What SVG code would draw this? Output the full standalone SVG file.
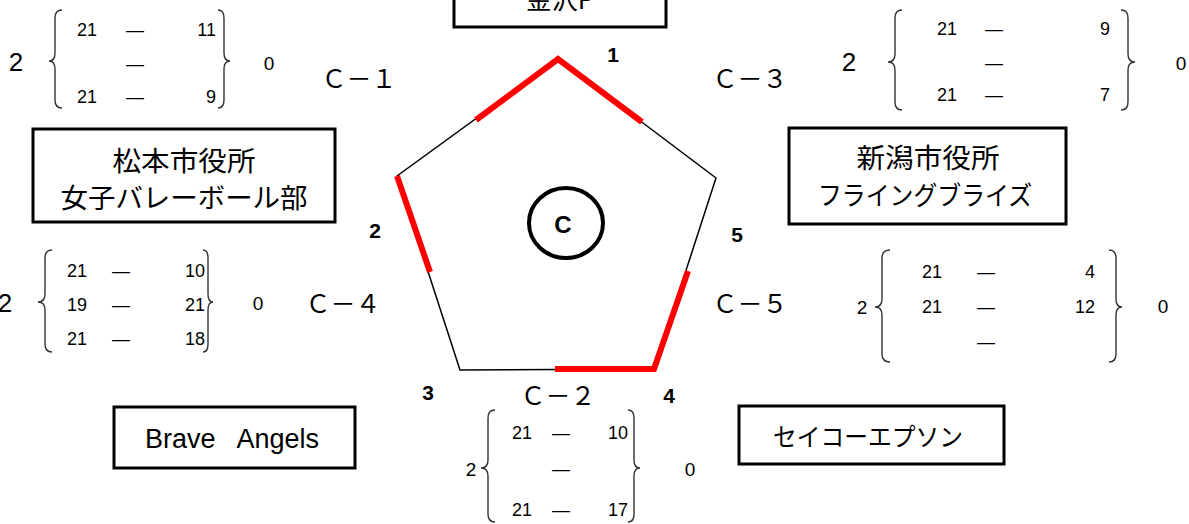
<svg xmlns="http://www.w3.org/2000/svg" width="1189" height="524" viewBox="0 0 1189 524">
<style>
.box{fill:#fff;stroke:#000;stroke-width:3}
.jp{font-family:"Noto Sans CJK JP","Liberation Sans",sans-serif;fill:#000}
.lat{font-family:"Liberation Sans","Noto Sans CJK JP",sans-serif;fill:#000}
.num{font-family:"Liberation Sans","Noto Sans CJK JP",sans-serif;font-size:18px;fill:#000}
.dash{font-family:"Liberation Sans",sans-serif;font-size:18px;fill:#000;text-anchor:middle}
.big{font-family:"Liberation Sans",sans-serif;font-size:26px;fill:#000;text-anchor:middle}
.zero{font-family:"Liberation Sans",sans-serif;font-size:19px;fill:#000;text-anchor:middle}
.lab{font-family:"Noto Sans CJK JP",sans-serif;font-size:25px;fill:#000;text-anchor:middle}
.vn{font-family:"Liberation Sans",sans-serif;font-size:21px;font-weight:bold;fill:#000;text-anchor:middle}
.brace{fill:none;stroke:#333;stroke-width:1.4}
.red{fill:none;stroke:#f00;stroke-width:6;stroke-linejoin:miter}
.end{text-anchor:end}
</style>

<g id="pentagon">
<polygon points="558,59 716,178 654,369 460,370 397,176" fill="none" stroke="#000" stroke-width="1.5"/>
<polyline class="red" points="476,120 558,59 642,122"/>
<line class="red" x1="397" y1="176" x2="430" y2="272"/>
<polyline class="red" points="688,271 654,369 555,369"/>
</g>

<g id="center-C">
<ellipse cx="566" cy="223" rx="37" ry="35" fill="none" stroke="#000" stroke-width="4"/>
<text x="563" y="233" font-family="Liberation Sans, sans-serif" font-size="24" font-weight="bold" text-anchor="middle">C</text>
</g>

<g id="vertex-labels">
<text class="vn" x="613" y="62">1</text>
<text class="vn" x="375" y="238">2</text>
<text class="vn" x="428" y="400">3</text>
<text class="vn" x="669" y="403">4</text>
<text class="vn" x="737" y="242">5</text>
</g>

<g id="connectors">
<text class="lab" x="359" y="88">Ｃ－１</text>
<text class="lab" x="750" y="88">Ｃ－３</text>
<text class="lab" x="343" y="313">Ｃ－４</text>
<text class="lab" x="750" y="313">Ｃ－５</text>
<text class="lab" x="558" y="405">Ｃ－２</text>
</g>

<g id="team-kanazawa">
<rect class="box" x="454" y="-40" width="212" height="67"/>
<text class="jp" x="560" y="9" font-size="26" text-anchor="middle">金沢P</text>
</g>

<g id="team-matsumoto">
<rect class="box" x="33" y="129" width="302" height="93"/>
<text class="jp" x="184" y="171" font-size="27" text-anchor="middle" textLength="143" lengthAdjust="spacingAndGlyphs">松本市役所</text>
<text class="jp" x="184" y="208" font-size="27" text-anchor="middle" textLength="247" lengthAdjust="spacingAndGlyphs">女子バレーボール部</text>
</g>

<g id="team-niigata">
<rect class="box" x="789" y="128" width="277" height="96"/>
<text class="jp" x="928" y="168" font-size="27" text-anchor="middle" textLength="143" lengthAdjust="spacingAndGlyphs">新潟市役所</text>
<text class="jp" x="925" y="205" font-size="26" text-anchor="middle" textLength="214" lengthAdjust="spacingAndGlyphs">フライングブライズ</text>
</g>

<g id="team-brave">
<rect class="box" x="114" y="407" width="241" height="61"/>
<text class="lat" x="232" y="448" font-size="27" text-anchor="middle" xml:space="preserve" style="white-space:pre">Brave   Angels</text>
</g>

<g id="team-seiko">
<rect class="box" x="739" y="406" width="265" height="58"/>
<text class="jp" x="868" y="446" font-size="25" text-anchor="middle" textLength="190" lengthAdjust="spacingAndGlyphs">セイコーエプソン</text>
</g>

<g id="score-c1">
<text class="big" x="16" y="71">2</text>
<path class="brace" d="M62,10 Q55,10 55,18 L55,53 Q55,61 49,61 Q55,61 55,69 L55,100 Q55,108 62,108"/>
<text class="num" x="77" y="36">21</text><text class="dash" x="135" y="36">—</text><text class="num end" x="216" y="36">11</text>
<text class="dash" x="135" y="70">—</text>
<text class="num" x="77" y="103">21</text><text class="dash" x="135" y="103">—</text><text class="num end" x="216" y="103">9</text>
<path class="brace" d="M218,10 Q224,10 224,18 L224,53 Q224,61 230,61 Q224,61 224,69 L224,100 Q224,108 218,108"/>
<text class="zero" x="269" y="70">0</text>
</g>

<g id="score-c3">
<text class="big" x="849" y="71">2</text>
<path class="brace" d="M902,10 Q895,10 895,18 L895,54 Q895,62 888,62 Q895,62 895,70 L895,102 Q895,110 902,110"/>
<text class="num" x="937" y="35">21</text><text class="dash" x="994" y="35">—</text><text class="num end" x="1110" y="35">9</text>
<text class="dash" x="994" y="69">—</text>
<text class="num" x="937" y="101">21</text><text class="dash" x="994" y="101">—</text><text class="num end" x="1110" y="101">7</text>
<path class="brace" d="M1121,10 Q1128,10 1128,18 L1128,54 Q1128,62 1135,62 Q1128,62 1128,70 L1128,102 Q1128,110 1121,110"/>
<text class="zero" x="1181" y="70">0</text>
</g>

<g id="score-c4">
<text class="big" x="5" y="312">2</text>
<path class="brace" d="M52,250 Q45,250 45,258 L45,294 Q45,302 38,302 Q45,302 45,310 L45,344 Q45,352 52,352"/>
<text class="num" x="67" y="277">21</text><text class="dash" x="121" y="277">—</text><text class="num end" x="205" y="277">10</text>
<text class="num" x="67" y="311">19</text><text class="dash" x="121" y="311">—</text><text class="num end" x="205" y="311">21</text>
<text class="num" x="67" y="345">21</text><text class="dash" x="121" y="345">—</text><text class="num end" x="205" y="345">18</text>
<path class="brace" d="M203,250 Q208,250 208,258 L208,294 Q208,302 213,302 Q208,302 208,310 L208,344 Q208,352 203,352"/>
<text class="zero" x="258" y="310">0</text>
</g>

<g id="score-c5">
<text class="zero" x="862" y="314">2</text>
<path class="brace" d="M890,250 Q882,250 882,258 L882,299 Q882,307 875,307 Q882,307 882,315 L882,354 Q882,362 890,362"/>
<text class="num" x="922" y="278">21</text><text class="dash" x="986" y="278">—</text><text class="num end" x="1095" y="278">4</text>
<text class="num" x="922" y="313">21</text><text class="dash" x="986" y="313">—</text><text class="num end" x="1095" y="313">12</text>
<text class="dash" x="986" y="348">—</text>
<path class="brace" d="M1109,250 Q1116,250 1116,258 L1116,299 Q1116,307 1122,307 Q1116,307 1116,315 L1116,354 Q1116,362 1109,362"/>
<text class="zero" x="1163" y="313">0</text>
</g>

<g id="score-c2">
<text class="zero" x="471" y="476">2</text>
<path class="brace" d="M495,410 Q488,410 488,418 L488,460 Q488,468 481,468 Q488,468 488,476 L488,514 Q488,522 495,522"/>
<text class="num" x="512" y="439">21</text><text class="dash" x="561" y="439">—</text><text class="num end" x="628" y="439">10</text>
<text class="dash" x="561" y="475">—</text>
<text class="num" x="512" y="516">21</text><text class="dash" x="561" y="516">—</text><text class="num end" x="628" y="516">17</text>
<path class="brace" d="M628,410 Q634,410 634,418 L634,460 Q634,468 640,468 Q634,468 634,476 L634,514 Q634,522 628,522"/>
<text class="zero" x="690" y="476">0</text>
</g>
</svg>
